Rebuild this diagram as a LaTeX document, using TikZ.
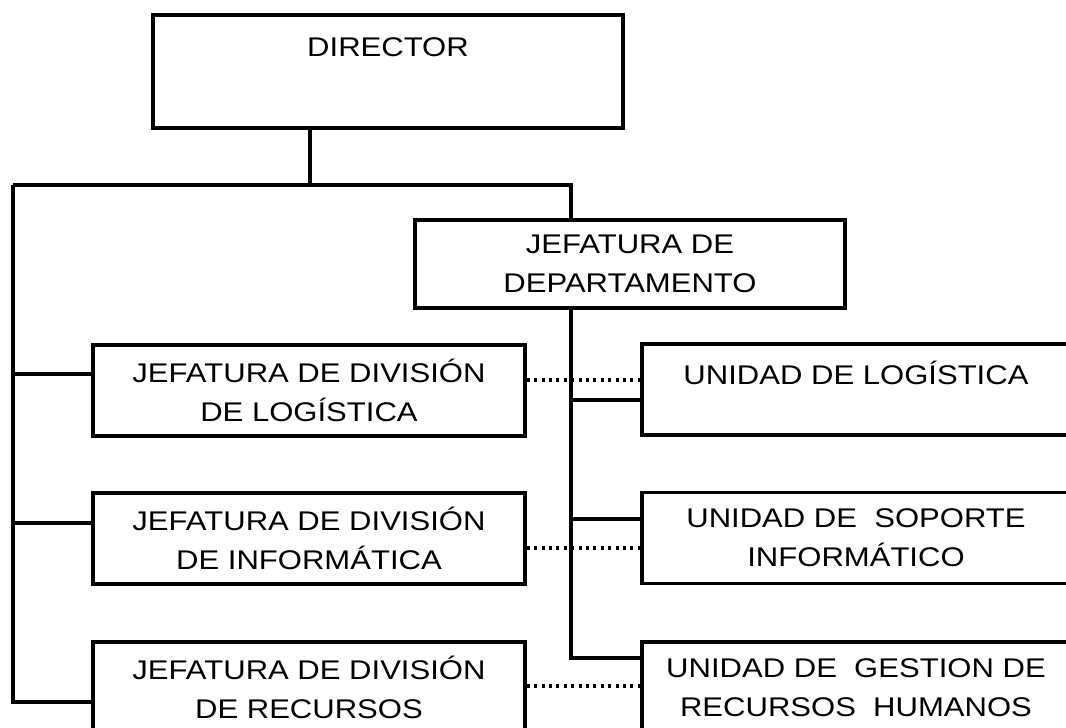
\documentclass[tikz,border=0pt]{standalone}
\usepackage{fontspec}
\setmainfont[FakeStretch=1.15]{Liberation Sans}
\usepackage{tikz}

\begin{document}
\begin{tikzpicture}[x=0.5pt, y=-0.5pt, line width=1.7pt,
    box/.style={draw, align=center, inner sep=0pt, font=\fontsize{13.5pt}{19.5pt}\selectfont},
    link/.style={line width=2pt, dash pattern=on 1.5pt off 2.2pt}]
  \useasboundingbox (0,0) rectangle (1066,728);
  \clip (0,0) rectangle (1066,728);

  \node[box, minimum width=235pt, minimum height=56.5pt, text depth=24.5pt] (director) at (388,71.5) {DIRECTOR};
  \node[box, minimum width=215pt, minimum height=44pt] (dept) at (630,264) {JEFATURA DE\\DEPARTAMENTO};

  \foreach \pos/\name/\txt in {{(309,390.5)/divlog/JEFATURA DE DIVISIÓN\\DE LOGÍSTICA},
                               {(309,538.5)/divinf/JEFATURA DE DIVISIÓN\\DE INFORMÁTICA},
                               {(309,687.5)/divrec/JEFATURA DE DIVISIÓN\\DE RECURSOS}}
    \node[box, minimum width=216pt, minimum height=45.5pt] (\name) at \pos {\txt};

  \node[box, minimum width=214pt, minimum height=45.5pt, text depth=17pt] (unitlog) at (856,389.5) {UNIDAD DE LOGÍSTICA};
  \foreach \pos/\name/\txt in {{(856,538)/unitsop/UNIDAD DE\ \ SOPORTE\\INFORMÁTICO},
                               {(856,687.5)/unitrh/UNIDAD DE\ \ GESTION DE\\RECURSOS\ \ HUMANOS}}
    \node[box, minimum width=214pt, minimum height=45.5pt] (\name) at \pos {\txt};

  % junctions
  \coordinate (dirfoot) at (310,185);
  \coordinate (lefttop) at (13,185);
  \coordinate (righttop) at (571,185);
  \coordinate (leftend) at (13,702);
  \coordinate (rightend) at (571,658);
  \coordinate (lb1) at (13,374);
  \coordinate (lb2) at (13,523);
  \coordinate (rb1) at (571,400);
  \coordinate (rb2) at (571,519);
  \coordinate (dl1) at (0,380);
  \coordinate (dl2) at (0,548);
  \coordinate (dl3) at (0,686);

  \draw (director.south -| dirfoot) -- (dirfoot);
  \draw (lefttop) -- (righttop) -- (righttop |- dept.north);
  \draw (lefttop) -- (leftend) -- (leftend -| divrec.west);
  \draw (righttop |- dept.south) -- (rightend) -- (rightend -| unitrh.west);
  \draw (lb1) -- (lb1 -| divlog.west);
  \draw (lb2) -- (lb2 -| divinf.west);
  \draw (rb1) -- (rb1 -| unitlog.west);
  \draw (rb2) -- (rb2 -| unitsop.west);

  \draw[link] (divlog.east |- dl1) -- (unitlog.west |- dl1);
  \draw[link] (divinf.east |- dl2) -- (unitsop.west |- dl2);
  \draw[link] (divrec.east |- dl3) -- (unitrh.west |- dl3);
\end{tikzpicture}
\end{document}
